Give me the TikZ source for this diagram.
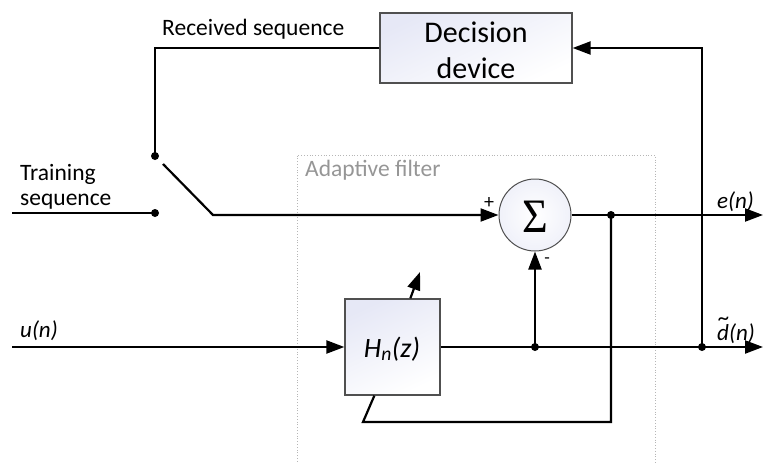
\documentclass[tikz,border=0pt]{standalone}
\usepackage{fontspec}
\usepackage{graphicx}
\setmainfont{Carlito}
\newfontfamily\sigfont{Liberation Serif}
\usetikzlibrary{arrows.meta,calc}
\definecolor{boxtop}{RGB}{230,232,246}
\definecolor{boxline}{RGB}{80,80,80}
\definecolor{lbl}{RGB}{150,150,150}
\tikzset{
  wire/.style={line width=2.2pt, black},
  arr/.style={wire, -{Triangle[length=18pt,width=13pt]}},
  blockbox/.style={draw=boxline, line width=1.3pt, shading=axis, top color=boxtop, bottom color=white, shading angle=25, inner sep=0pt},
  dotnode/.style={circle, fill=black, inner sep=0pt, minimum size=8pt},
  txt/.style={inner sep=0pt, font=\fontsize{23.5}{26}\selectfont},
  itxt/.style={inner sep=0pt, font=\fontsize{23}{26}\selectfont\itshape},
}
\begin{document}
\begin{tikzpicture}[x=1pt,y=-1pt]
\useasboundingbox (0,0) rectangle (763,463);
% adaptive filter frame
\draw[lbl!70, line width=0.8pt, dotted] (297,470) -- (297,155) -- (655,155) -- (655,470);
\node[txt, anchor=base west, text=lbl] (aflbl) at (305,176) {Adaptive filter};
% blocks
\node[blockbox, minimum width=192pt, minimum height=70pt] (dec) at (476,48) {};
\node[inner sep=0pt, align=center, font=\fontsize{30}{36}\selectfont] (dectxt) at (476,50) {Decision\\device};
\node[blockbox, minimum width=95pt, minimum height=96pt] (H) at (392.5,347) {};
\node[inner sep=0pt, font=\fontsize{28}{30}\selectfont\itshape, anchor=base] (Htxt) at (392,357) {H\textsubscript{n}(z)};
\node[circle, draw=boxline, line width=1pt, shading=radial, inner color=white, outer color=boxtop!60, minimum size=72pt, inner sep=0pt] (sig) at (535,215) {};
\node[inner sep=0pt, anchor=base] (sigtxt) at (535,232) {\sigfont\fontsize{48}{48}\selectfont\scalebox{0.92}[1]{Σ}};
% coordinates
\coordinate (rsc) at (155,48);
\node[dotnode] (sw1) at (155,156) {};
\node[dotnode] (sw2) at (155,213) {};
\coordinate (tsin) at (12,213);
\coordinate (bs) at (163,164);
\coordinate (be) at (213,215);
\coordinate (uin) at (12,347);
\node[dotnode] (j1) at (535,347) {};
\node[dotnode] (j2) at (611,215) {};
\node[dotnode] (j3) at (702,347) {};
\coordinate (eout) at (763,215);
\coordinate (dout) at (763,347);
\coordinate (fbc) at (702,48);
\coordinate (bc1) at (611,422);
\coordinate (bc2) at (363,422);
\coordinate (adj) at (420,272);
% wires
\draw[wire] (dec.west) -- (rsc) -- (sw1.center);
\draw[wire] (tsin) -- (sw2.center);
\draw[arr] (bs) -- (be) -- (sig.west);
\draw[arr] (uin) -- (H.west);
\draw[arr] (H.east) -- (dout);
\draw[arr] (j1.center) -- (sig.south);
\draw[arr] (sig.east) -- (eout);
\draw[wire] (j2.center) -- (bc1) -- (bc2) -- ([xshift=30pt]H.south west);
\draw[arr] (j3.center) -- (fbc) -- (dec.east);
\draw[arr] ([xshift=66pt]H.north west) -- (adj);
% labels
\node[txt, anchor=base west] (rs) at (162,35) {Received sequence};
\node[txt, anchor=base west] (tr1) at (20,180) {Training};
\node[txt, anchor=base west] (tr2) at (20,205) {sequence};
\node[itxt, anchor=base west] (un) at (20,337) {u(n)};
\node[itxt, anchor=base west] (en) at (717,208) {e(n)};
\node[itxt, anchor=base west] (dn) at (717,340) {\ooalign{d\cr\hidewidth\kern0.08em\raisebox{0.62em}{\char"007E}\hidewidth\cr}(n)};
\node[inner sep=0pt, font=\fontsize{20}{20}\selectfont] (plus) at (489,203) {+};
\node[inner sep=0pt, font=\fontsize{18}{18}\selectfont] (minus) at (547,261) {-};
\end{tikzpicture}
\end{document}
